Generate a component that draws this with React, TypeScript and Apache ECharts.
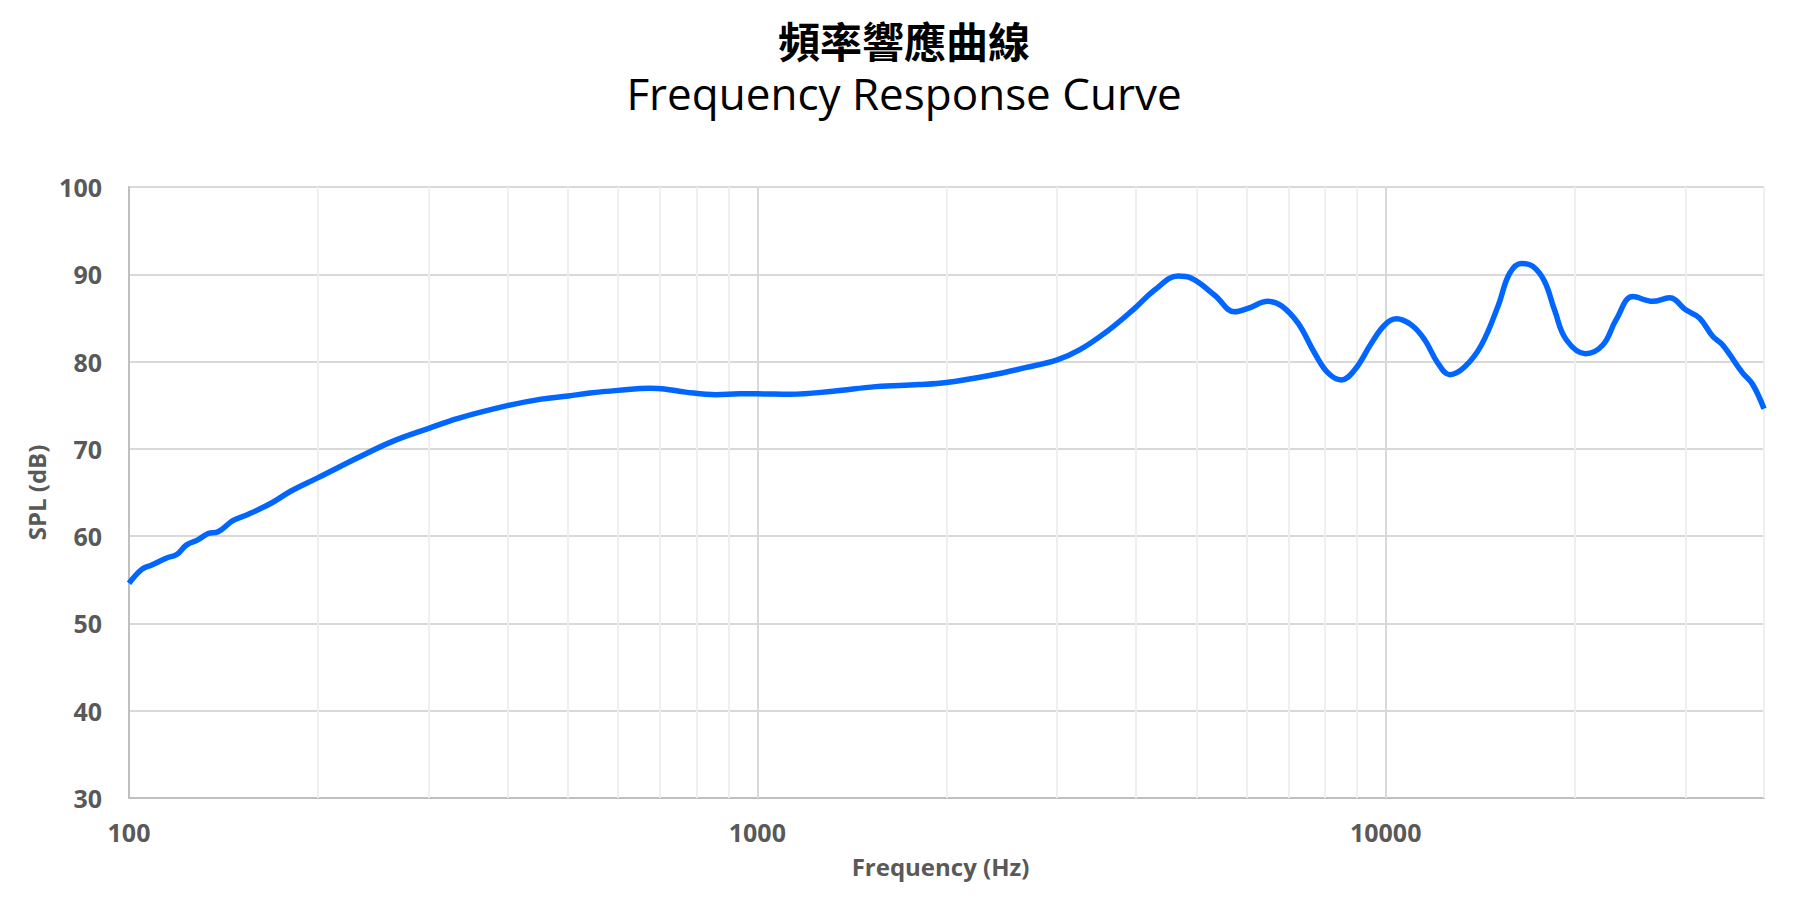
import React, { useEffect, useRef } from "react";
import * as echarts from "echarts";

const titleZh = "頻率響應曲線";
const titleEn = "Frequency Response Curve";
const xAxisName = "Frequency (Hz)";
const yAxisName = "SPL (dB)";

const freqHz = [
  100, 104.8, 108.7, 114.8, 119.1, 123.5, 128.9, 133.6, 138.6, 146.5, 154.8,
  168.6, 181.4, 200, 231.6, 261.6, 300, 334, 400, 453, 500, 541, 600, 675,
  711, 769, 860, 937, 1000, 1127, 1319, 1543, 1806, 2000, 2341, 2669, 3000,
  3250, 3615, 3986, 4288, 4673, 4906, 5344, 5750, 6039, 6497, 6823, 7253,
  7710, 8094, 8500, 8926, 9488, 9963, 10398, 10985, 11535, 12113, 12645,
  13361, 14201, 15100, 15745, 16435, 17150, 17895, 18566, 19383, 20796,
  22158, 23270, 24734, 26607, 28285, 30060, 31570, 33140, 34380, 36980,
  38360, 40000,
];

const splDb = [
  54.6, 56.2, 56.7, 57.5, 57.9, 59.0, 59.6, 60.3, 60.5, 61.8, 62.5, 63.8,
  65.2, 66.7, 69.0, 70.8, 72.35, 73.5, 74.95, 75.7, 76.06, 76.4, 76.7, 76.94,
  76.87, 76.5, 76.2, 76.3, 76.3, 76.26, 76.6, 77.13, 77.36, 77.6, 78.4, 79.3,
  80.2, 81.3, 83.55, 86.1, 88.2, 89.8, 89.55, 87.6, 85.7, 86.1, 86.9, 86.4,
  84.4, 80.95, 78.7, 77.9, 79.05, 82.1, 84.2, 84.9, 84.2, 82.5, 79.8, 78.5,
  79.4, 81.9, 86.4, 90.1, 91.25, 90.9, 89.2, 85.9, 82.5, 80.9, 81.9, 84.8,
  87.45, 86.9, 87.3, 85.9, 85.0, 82.9, 81.9, 78.7, 77.4, 74.6,
];

const xMin = 100;
const xMax = 40000;
const yMin = 30;
const yMax = 100;
const yStep = 10;
const majorFreqLines = [1000, 10000];
const minorFreqLines = [
  200, 300, 400, 500, 600, 700, 800, 900, 2000, 3000, 4000, 5000, 6000, 7000,
  8000, 9000, 20000, 30000, 40000,
];
const tickLabels = [100, 1000, 10000];

const labelColor = "#595959";

export default function App() {
  const ref = useRef<HTMLDivElement>(null);

  useEffect(() => {
    document.body.style.margin = "0";
    if (!ref.current) return;
    const chart = echarts.init(ref.current, undefined, { renderer: "svg" });
    const points = freqHz.map((f, i) => [f, splDb[i]]);
    chart.setOption({
      animation: false,
      backgroundColor: "#ffffff",
      title: [
        {
          text: titleZh,
          left: "center",
          top: 13,
          textStyle: {
            fontFamily: "Noto Sans CJK TC",
            fontSize: 42,
            lineHeight: 42,
            fontWeight: "bold",
            color: "#000000",
          },
        },
        {
          text: titleEn,
          left: "center",
          top: 66,
          textStyle: {
            fontFamily: "Open Sans",
            fontSize: 44,
            lineHeight: 44,
            fontWeight: "normal",
            color: "#000000",
          },
        },
      ],
      grid: { left: 129, top: 187, right: 44, bottom: 110, containLabel: false },
      xAxis: {
        type: "log",
        logBase: 10,
        min: xMin,
        max: xMax,
        name: xAxisName,
        nameLocation: "middle",
        nameGap: 56,
        nameTextStyle: {
          fontFamily: "Open Sans",
          fontSize: 24,
          fontWeight: "bold",
          color: labelColor,
          padding: [0, 12, 0, 0],
        },
        axisLine: { show: true, lineStyle: { color: "#bfbfbf", width: 2 } },
        axisTick: { show: false },
        splitLine: { show: false },
        axisLabel: {
          margin: 21,
          fontFamily: "Open Sans",
          fontSize: 25,
          fontWeight: "bold",
          color: labelColor,
          formatter: (v: number) => {
            const hit = tickLabels.find((t) => Math.abs(t - v) / t < 1e-6);
            return hit ? String(hit) : "";
          },
        },
      },
      yAxis: {
        type: "value",
        min: yMin,
        max: yMax,
        interval: yStep,
        name: yAxisName,
        nameLocation: "middle",
        nameGap: 79,
        nameTextStyle: {
          fontFamily: "Open Sans",
          fontSize: 24,
          fontWeight: "bold",
          color: labelColor,
        },
        axisLine: { show: true, lineStyle: { color: "#bfbfbf", width: 2 } },
        axisTick: { show: false },
        splitLine: { show: true, lineStyle: { color: "#d9d9d9", width: 2 } },
        axisLabel: {
          margin: 27,
          fontFamily: "Open Sans",
          fontSize: 25,
          fontWeight: "bold",
          color: labelColor,
        },
      },
      series: [
        {
          type: "line",
          data: [],
          z: 1,
          silent: true,
          markLine: {
            silent: true,
            z: 1,
            symbol: ["none", "none"],
            label: { show: false },
            animation: false,
            data: [
              ...minorFreqLines.map((f) => ({
                xAxis: f,
                lineStyle: { color: "#efefef", width: 2, type: "solid" },
              })),
              ...majorFreqLines.map((f) => ({
                xAxis: f,
                lineStyle: { color: "#d9d9d9", width: 2, type: "solid" },
              })),
            ],
          },
        },
        {
          type: "line",
          data: points,
          z: 3,
          smooth: 0.4,
          showSymbol: false,
          symbol: "none",
          lineStyle: { color: "#0066ff", width: 5.5 },
          clip: true,
        },
      ],
    });
    return () => chart.dispose();
  }, []);

  return (
    <div
      ref={ref}
      style={{ position: "absolute", left: 0, top: 0, width: 1808, height: 908 }}
    />
  );
}
